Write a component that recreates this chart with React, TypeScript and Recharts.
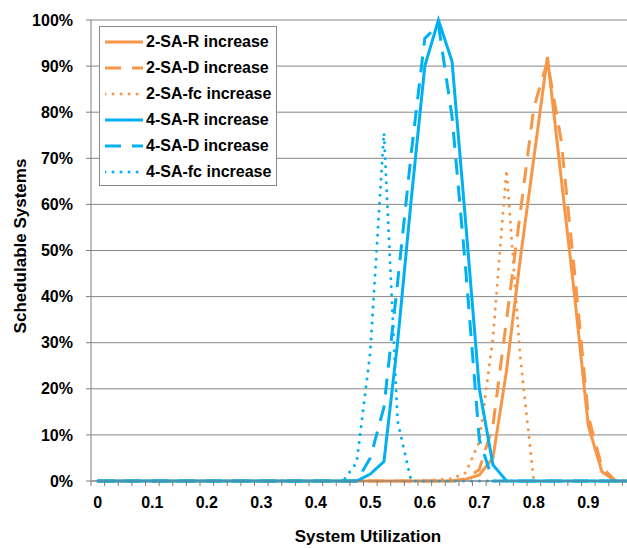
import React from "react";
import { LineChart, Line, XAxis, YAxis, CartesianGrid, Legend } from "recharts";

// system utilization categories (step 0.025)
const utilization = [
  0, 0.025, 0.05, 0.075, 0.1, 0.125, 0.15, 0.175, 0.2, 0.225,
  0.25, 0.275, 0.3, 0.325, 0.35, 0.375, 0.4, 0.425, 0.45, 0.475,
  0.5, 0.525, 0.55, 0.575, 0.6, 0.625, 0.65, 0.675, 0.7, 0.725,
  0.75, 0.775, 0.8, 0.825, 0.85, 0.875, 0.9, 0.925, 0.95, 0.975,
];

// schedulable systems, %
const sa2R = [
  0, 0, 0, 0, 0, 0, 0, 0, 0, 0,
  0, 0, 0, 0, 0, 0, 0, 0, 0, 0,
  0, 0, 0, 0, 0, 0, 0, 0.4, 1.3, 5,
  24, 48, 70, 92, 66, 40, 12, 2, 0, 0,
];
const sa2D = [
  0, 0, 0, 0, 0, 0, 0, 0, 0, 0,
  0, 0, 0, 0, 0, 0, 0, 0, 0, 0,
  0, 0, 0, 0, 0, 0, 0, 0.5, 2.5, 12,
  35, 58, 81, 91, 74, 45, 14, 3, 0, 0,
];
const sa2Fc = [
  0, 0, 0, 0, 0, 0, 0, 0, 0, 0,
  0, 0, 0, 0, 0, 0, 0, 0, 0, 0,
  0, 0, 0, 0, 0, 0.3, 0.5, 1.8, 8.5, 31,
  67.5, 27, 0, 0, 0, 0, 0, 0, 0, 0,
];
const sa4R = [
  0, 0, 0, 0, 0, 0, 0, 0, 0, 0,
  0, 0, 0, 0, 0, 0, 0, 0, 0, 0,
  1.5, 4.2, 30, 61, 90, 100, 91, 56, 20, 3.5,
  0, 0, 0, 0, 0, 0, 0, 0, 0, 0,
];
const sa4D = [
  0, 0, 0, 0, 0, 0, 0, 0, 0, 0,
  0, 0, 0, 0, 0, 0, 0, 0, 0, 0,
  5, 16, 43, 71, 96, 99, 79, 46, 9, 0,
  0, 0, 0, 0, 0, 0, 0, 0, 0, 0,
];
const sa4Fc = [
  0, 0, 0, 0, 0, 0, 0, 0, 0, 0,
  0, 0, 0, 0, 0, 0, 0, 0, 0, 4,
  28, 75.5, 13, 0, 0, 0, 0, 0, 0, 0,
  0, 0, 0, 0, 0, 0, 0, 0, 0, 0,
];

const xTickLabels = ["0", "0.1", "0.2", "0.3", "0.4", "0.5", "0.6", "0.7", "0.8", "0.9"];
const yTicks = [0, 10, 20, 30, 40, 50, 60, 70, 80, 90, 100];

const ORANGE = "#F79646";
const BLUE = "#00B0F0";
const DASH = "16 11";
const DOT = "0.01 8";
const FONT = "'Liberation Sans', Arial, sans-serif";

const seriesList = [
  { key: "sa2R", name: "2-SA-R increase", color: ORANGE, dash: undefined },
  { key: "sa2D", name: "2-SA-D increase", color: ORANGE, dash: DASH },
  { key: "sa2Fc", name: "2-SA-fc increase", color: ORANGE, dash: DOT },
  { key: "sa4R", name: "4-SA-R increase", color: BLUE, dash: undefined },
  { key: "sa4D", name: "4-SA-D increase", color: BLUE, dash: DASH },
  { key: "sa4Fc", name: "4-SA-fc increase", color: BLUE, dash: DOT },
];

const rows = utilization.map((u, i) => ({
  u,
  sa2R: sa2R[i],
  sa2D: sa2D[i],
  sa2Fc: sa2Fc[i],
  sa4R: sa4R[i],
  sa4D: sa4D[i],
  sa4Fc: sa4Fc[i],
}));

// tick marks sit between categories, like Excel
const HALF_STEP = 0.0125;
const boundaries = utilization.map((u) => u - HALF_STEP).concat([0.975 + HALF_STEP]);
const HALF_PX = 545 / 40 / 2;

function XTick(props: any) {
  const { x, payload } = props;
  const center = payload.value + HALF_STEP;
  const lab = xTickLabels.find((l) => Math.abs(parseFloat(l) - center) < 1e-6);
  if (lab === undefined) return null;
  return (
    <text
      x={x + HALF_PX}
      y={508}
      textAnchor="middle"
      fontSize={16}
      fontWeight={700}
      fontFamily={FONT}
      fill="#000"
    >
      {lab}
    </text>
  );
}

function LegendBox() {
  return (
    <div
      style={{
        width: 176,
        height: 156,
        border: "1px solid #888",
        background: "#fff",
        paddingTop: 2,
        boxSizing: "content-box",
        fontFamily: FONT,
      }}
    >
      {seriesList.map((s) => (
        <div
          key={s.key}
          style={{ height: 26, display: "flex", alignItems: "center" }}
        >
          <svg width={38} height={10} style={{ marginLeft: 5, marginRight: 3 }}>
            <line
              x1={0}
              y1={5}
              x2={38}
              y2={5}
              stroke={s.color}
              strokeWidth={3}
              strokeDasharray={s.dash}
              strokeLinecap={s.dash === DOT ? "round" : "butt"}
            />
          </svg>
          <span style={{ fontSize: 16, fontWeight: 700, color: "#000", whiteSpace: "nowrap" }}>
            {s.name}
          </span>
        </div>
      ))}
    </div>
  );
}

export default function App() {
  return (
    <div
      style={{
        position: "fixed",
        left: 0,
        top: 0,
        width: 627,
        height: 548,
        overflow: "hidden",
        background: "#fff",
      }}
    >
      <LineChart
        width={640}
        height={548}
        data={rows}
        margin={{ top: 20, right: 4, left: 0, bottom: 0 }}
      >
        <CartesianGrid vertical={false} stroke="#868686" />
        <XAxis
          dataKey="u"
          type="number"
          domain={[-HALF_STEP, 0.975 + HALF_STEP]}
          ticks={boundaries}
          interval={0}
          tick={<XTick />}
          tickSize={5}
          height={67}
          stroke="#808080"
          label={{
            content: () => (
              <text
                x={368}
                y={542}
                textAnchor="middle"
                fontSize={17}
                fontWeight={700}
                fontFamily={FONT}
                fill="#000"
              >
                System Utilization
              </text>
            ),
          }}
        />
        <YAxis
          type="number"
          domain={[0, 100]}
          ticks={yTicks}
          interval={0}
          width={91}
          tickSize={5}
          tickMargin={13}
          tickFormatter={(v) => `${v}%`}
          stroke="#808080"
          tick={{ fontSize: 16, fontWeight: 700, fill: "#000", fontFamily: FONT }}
          label={{
            content: () => (
              <text
                x={26}
                y={246}
                transform="rotate(-90 26 246)"
                textAnchor="middle"
                fontSize={17}
                fontWeight={700}
                fontFamily={FONT}
                fill="#000"
              >
                Schedulable Systems
              </text>
            ),
          }}
        />
        <Legend
          layout="vertical"
          align="center"
          verticalAlign="middle"
          wrapperStyle={{ left: 99, top: 26, width: 178, height: 159 }}
          content={<LegendBox />}
        />
        {seriesList.map((s) => (
          <Line
            key={s.key}
            type="linear"
            dataKey={s.key}
            name={s.name}
            stroke={s.color}
            strokeWidth={3}
            strokeDasharray={s.dash}
            strokeLinecap={s.dash === DOT ? "round" : "butt"}
            dot={false}
            activeDot={false}
            isAnimationActive={false}
          />
        ))}
      </LineChart>
    </div>
  );
}
